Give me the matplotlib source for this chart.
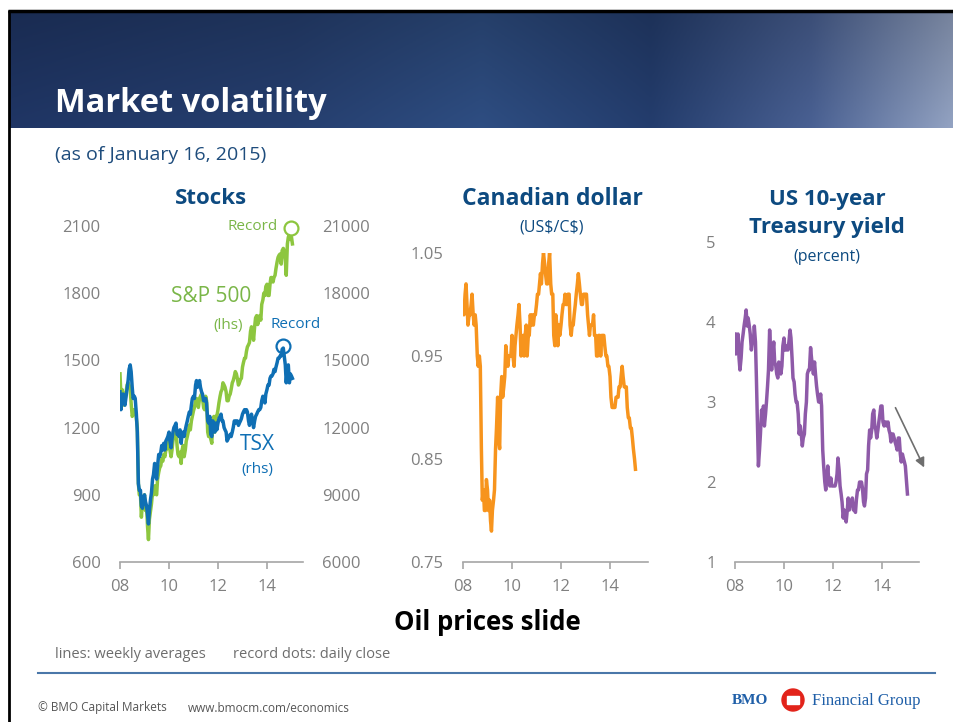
import matplotlib
matplotlib.use("Agg")
import matplotlib.pyplot as plt
import numpy as np
import pandas as pd
from matplotlib.patches import Circle, Rectangle

# ---------------------------------------------------------------------------
# data (semi-monthly readings, Jan 2008 - mid Jan 2015)
dates = pd.date_range("2008-01-01", "2015-01-15", freq="SMS")
years = dates.year + (dates.dayofyear - 1) / 365.25

spx = [1440, 1340, 1370, 1350, 1300, 1320, 1360, 1390, 1400, 1390, 1370, 1310, 1250, 1260, 1280, 1280, 1240, 1200, 950, 900, 900, 800, 870, 880,
       900, 830, 850, 760, 700, 790, 830, 860, 910, 900, 940, 910, 900, 970, 1000, 1020, 1030, 1060, 1050, 1080, 1070, 1100, 1105, 1120,
       1140, 1100, 1070, 1100, 1140, 1165, 1190, 1200, 1120, 1080, 1070, 1090, 1040, 1100, 1120, 1070, 1100, 1140, 1160, 1180, 1210, 1190, 1230, 1250,
       1275, 1290, 1320, 1330, 1310, 1290, 1330, 1340, 1350, 1330, 1290, 1280, 1340, 1320, 1180, 1160, 1180, 1150, 1130, 1230, 1250, 1180, 1250, 1250,
       1280, 1310, 1340, 1360, 1370, 1400, 1390, 1380, 1360, 1320, 1320, 1340, 1350, 1370, 1400, 1410, 1430, 1450, 1440, 1420, 1390, 1400, 1415, 1420,
       1470, 1490, 1510, 1510, 1540, 1560, 1570, 1580, 1630, 1650, 1630, 1590, 1650, 1690, 1700, 1660, 1680, 1700, 1680, 1750, 1770, 1800, 1790, 1830,
       1840, 1790, 1790, 1840, 1870, 1870, 1850, 1870, 1880, 1910, 1940, 1960, 1970, 1975, 1930, 1990, 2000, 1990, 1950, 1880, 2020, 2050, 2060, 2040,
       2050, 2020]

tsx = [13600, 12800, 13300, 13500, 13400, 13000, 13400, 13700, 14100, 14600, 14800, 14500, 13800, 13300, 13400, 13300, 12600, 11800, 9500, 9200, 9200, 8500, 8400, 8700,
       9000, 8700, 8500, 8100, 7700, 8300, 8800, 9100, 9700, 9900, 10400, 10000, 9700, 10300, 10800, 10700, 10900, 11200, 11000, 11300, 11000, 11400, 11500, 11600,
       11800, 11400, 11100, 11500, 11800, 12000, 12100, 12200, 11700, 11700, 11600, 11900, 11300, 11700, 11800, 11600, 11900, 12100, 12300, 12500, 12700, 12600, 13000, 13300,
       13400, 13300, 13900, 14100, 13800, 13900, 14100, 13800, 13600, 13500, 13200, 13200, 13300, 13100, 12300, 12200, 12500, 11700, 11600, 12300, 12200, 11800, 12200, 11900,
       12200, 12400, 12500, 12600, 12300, 12300, 12000, 11900, 11800, 11400, 11500, 11600, 11700, 11600, 11800, 12000, 12300, 12200, 12300, 12300, 12100, 12200, 12300, 12400,
       12600, 12700, 12800, 12700, 12800, 12700, 12300, 12100, 12400, 12600, 12300, 12000, 12300, 12500, 12600, 12700, 12800, 12800, 12900, 13200, 13400, 13300, 13100, 13500,
       13700, 13900, 13900, 14200, 14300, 14300, 14400, 14600, 14500, 14700, 14900, 15100, 15100, 15200, 15200, 15500, 15550, 15200, 14800, 14000, 14600, 14800, 14000, 14400,
       14300, 14200]

cad = [1.00, 0.99, 1.01, 1.02, 1.00, 0.98, 0.99, 0.99, 1.00, 1.01, 0.99, 0.98, 0.99, 0.98, 0.95, 0.94, 0.95, 0.94, 0.86, 0.81, 0.82, 0.80, 0.80, 0.83,
       0.82, 0.80, 0.81, 0.79, 0.78, 0.80, 0.81, 0.82, 0.86, 0.88, 0.91, 0.87, 0.86, 0.91, 0.93, 0.91, 0.92, 0.93, 0.96, 0.95, 0.94, 0.95, 0.95, 0.95,
       0.97, 0.95, 0.94, 0.96, 0.97, 0.98, 0.99, 1.00, 0.98, 0.95, 0.96, 0.97, 0.95, 0.97, 0.98, 0.95, 0.97, 0.97, 0.99, 0.98, 0.99, 0.98, 0.99, 0.99,
       1.00, 1.01, 1.01, 1.02, 1.03, 1.02, 1.04, 1.05, 1.04, 1.03, 1.02, 1.02, 1.04, 1.05, 1.02, 1.01, 1.01, 0.97, 0.96, 0.99, 0.98, 0.96, 0.98, 0.97,
       0.98, 0.99, 1.00, 1.00, 1.01, 1.00, 1.00, 1.01, 1.01, 0.98, 0.97, 0.98, 0.98, 0.99, 1.00, 1.01, 1.02, 1.03, 1.02, 1.01, 1.00, 1.00, 1.01, 1.01,
       1.01, 1.01, 0.99, 0.98, 0.97, 0.98, 0.98, 0.98, 0.99, 0.97, 0.97, 0.95, 0.95, 0.97, 0.97, 0.95, 0.97, 0.97, 0.97, 0.96, 0.95, 0.95, 0.94, 0.94,
       0.93, 0.91, 0.90, 0.90, 0.90, 0.90, 0.91, 0.91, 0.91, 0.92, 0.92, 0.93, 0.94, 0.93, 0.92, 0.92, 0.92, 0.90, 0.89, 0.89, 0.88, 0.88, 0.87, 0.86,
       0.85, 0.84]

ust = [3.85, 3.60, 3.65, 3.85, 3.55, 3.40, 3.55, 3.75, 3.85, 3.95, 4.05, 4.15, 3.95, 4.05, 3.95, 3.85, 3.65, 3.75, 3.75, 3.95, 3.75, 3.30, 2.70, 2.20,
       2.40, 2.60, 2.90, 2.80, 2.95, 2.70, 2.85, 3.00, 3.20, 3.40, 3.90, 3.65, 3.40, 3.60, 3.75, 3.50, 3.45, 3.35, 3.30, 3.50, 3.45, 3.35, 3.45, 3.70,
       3.80, 3.65, 3.65, 3.70, 3.65, 3.75, 3.90, 3.80, 3.55, 3.30, 3.25, 3.10, 3.00, 3.00, 2.85, 2.60, 2.70, 2.60, 2.45, 2.55, 2.60, 2.85, 3.00, 3.35,
       3.40, 3.40, 3.68, 3.55, 3.45, 3.35, 3.50, 3.35, 3.20, 3.10, 3.00, 3.00, 3.10, 2.95, 2.40, 2.20, 2.00, 1.90, 2.05, 2.20, 2.00, 1.95, 2.05, 1.95,
       1.95, 1.95, 1.95, 2.00, 2.10, 2.30, 2.15, 1.95, 1.85, 1.75, 1.55, 1.65, 1.55, 1.50, 1.65, 1.80, 1.65, 1.75, 1.72, 1.80, 1.65, 1.65, 1.62, 1.78,
       1.90, 1.90, 2.00, 1.95, 2.00, 1.93, 1.75, 1.70, 1.80, 2.10, 2.15, 2.45, 2.65, 2.55, 2.65, 2.85, 2.90, 2.70, 2.65, 2.55, 2.65, 2.75, 2.85, 2.95,
       2.95, 2.75, 2.70, 2.75, 2.75, 2.70, 2.75, 2.65, 2.60, 2.50, 2.60, 2.60, 2.55, 2.50, 2.45, 2.40, 2.55, 2.55, 2.35, 2.25, 2.35, 2.30, 2.25, 2.20,
       2.00, 1.85]

# record daily closes
spx_record = (2014.99, 2090.57)
tsx_record = (2014.67, 15657)

# trend arrow on the yield panel
arrow_start = (2014.5, 2.96)
arrow_end = (2015.77, 2.15)

year_ticks = [2008, 2010, 2012, 2014]
year_labels = ["08", "10", "12", "14"]

# ---------------------------------------------------------------------------
plt.rcParams["font.family"] = ["Open Sans", "DejaVu Sans"]

NAVY = "#0d4a80"
GREY = "#808080"
GREEN = "#8dc63f"
BLUE = "#0f6fb4"
ORANGE = "#f7941d"
PURPLE = "#8e5aa8"
LW = 2.5

W, H = 954, 722
fig = plt.figure(figsize=(W / 100, H / 100), dpi=100)

# background layer in pixel coords
bg = fig.add_axes([0, 0, 1, 1])
bg.set_xlim(0, W)
bg.set_ylim(H, 0)
bg.axis("off")

# banner gradient
gx = np.linspace(0, 1, 300)
stops = [0.0, 0.3, 0.5, 0.68, 0.85, 1.0]
cols = np.array([[30, 51, 96], [36, 60, 106], [44, 74, 124], [34, 58, 104], [70, 92, 140], [140, 155, 185]]) / 255
row = np.stack([np.interp(gx, stops, cols[:, k]) for k in range(3)], axis=-1)
gy = np.linspace(0.85, 1.05, 60)[:, None, None]
img = np.clip(row[None, :, :] * gy, 0, 1)
bg.imshow(img, extent=[10, W, 128, 12], aspect="auto", zorder=0)

# frame lines
bg.plot([8, W], [11, 11], color="black", lw=2.5, solid_capstyle="butt")
bg.plot([9, 9], [10, H], color="black", lw=2, solid_capstyle="butt")

bg.text(55, 103, "Market volatility", color="white", fontsize=23.5, fontweight="bold",
        va="center", ha="left")
bg.text(55, 155, "(as of January 16, 2015)", color="#1e4c7c", fontsize=14, va="center")

# panel headings
bg.text(211, 199, "Stocks", color=NAVY, fontsize=16, fontweight="bold", ha="center", va="center")
bg.text(552, 199, "Canadian dollar", color=NAVY, fontsize=16.5, fontweight="bold", ha="center", va="center")
bg.text(552, 228, r"(US\$/C\$)", color=NAVY, fontsize=11.5, ha="center", va="center")
bg.text(827, 199, "US 10-year", color=NAVY, fontsize=16, fontweight="bold", ha="center", va="center")
bg.text(827, 228, "Treasury yield", color=NAVY, fontsize=16, fontweight="bold", ha="center", va="center")
bg.text(827, 257, "(percent)", color=NAVY, fontsize=11.5, ha="center", va="center")

bg.text(487, 623, "Oil prices slide", color="black", fontsize=18.5, fontweight="bold",
        ha="center", va="center")
bg.text(55, 655, "lines: weekly averages", color="#6d6d6d", fontsize=10.5, va="center")
bg.text(233, 655, "record dots: daily close", color="#6d6d6d", fontsize=10.5, va="center")

bg.plot([38, 935], [673, 673], color="#4a77a9", lw=1.5)
bg.text(38, 708, "\u00a9 BMO Capital Markets", color="#555555", fontsize=8.5, va="center")
bg.text(188, 708, "www.bmocm.com/economics", color="#555555", fontsize=8.5, va="center")

# BMO logo
bg.text(768, 701, "BMO", color="#1f5fa8", fontsize=11, fontweight="bold", family="Liberation Serif",
        ha="right", va="center")
bg.add_patch(Circle((793, 700), 11, color="#e2231a", zorder=3))
bg.add_patch(Rectangle((787, 696), 12, 8, color="white", zorder=4))
bg.text(812, 701, "Financial Group", color="#1f5fa8", fontsize=12, family="Liberation Serif",
        ha="left", va="center")


def px_axes(x0, x1, y_top, y_bot):
    return fig.add_axes([x0 / W, 1 - y_bot / H, (x1 - x0) / W, (y_bot - y_top) / H])


def style(ax, xmax):
    ax.set_xlim(2008, xmax)
    ax.patch.set_visible(False)
    for s in ["top", "right", "left"]:
        ax.spines[s].set_visible(False)
    ax.spines["bottom"].set_color("#a6a6a6")
    ax.spines["bottom"].set_linewidth(1.2)
    ax.set_xticks(year_ticks)
    ax.set_xticklabels(year_labels)
    ax.tick_params(axis="x", direction="out", length=5, width=1.2, color="#a6a6a6",
                   labelcolor=GREY, labelsize=12, pad=7)
    ax.tick_params(axis="y", length=0, labelcolor=GREY, labelsize=12, pad=14)


# --- Stocks
ax1 = px_axes(120, 303, 226, 562)
style(ax1, 2015.47)
ax1.set_ylim(600, 2100)
ax1.set_yticks(np.arange(600, 2101, 300))
ax1.plot(years, spx, color=GREEN, lw=LW)
ax1.plot(*spx_record, marker="o", ms=10, mfc="white", mec=GREEN, mew=1.6, clip_on=False)

ax1b = ax1.twinx()
ax1b.set_ylim(6000, 21000)
ax1b.set_yticks(np.arange(6000, 21001, 3000))
for s in ["top", "right", "left", "bottom"]:
    ax1b.spines[s].set_visible(False)
ax1b.tick_params(axis="y", length=0, labelcolor=GREY, labelsize=12, pad=14)
ax1b.plot(years, tsx, color=BLUE, lw=LW)
ax1b.plot(*tsx_record, marker="o", ms=10, mfc="none", mec=BLUE, mew=1.6, clip_on=False)

bg.text(278, 227, "Record", color="#7ab648", fontsize=11, ha="right", va="center", zorder=10)
bg.text(211, 297, "S&P 500", color="#7ab648", fontsize=15, ha="center", va="center")
bg.text(228, 325, "(lhs)", color="#7ab648", fontsize=11, ha="center", va="center")
bg.text(296, 325, "Record", color=BLUE, fontsize=11, ha="center", va="center")
bg.text(257, 445, "TSX", color=BLUE, fontsize=15, ha="center", va="center")
bg.text(257, 470, "(rhs)", color=BLUE, fontsize=11, ha="center", va="center")

# --- Canadian dollar
ax2 = px_axes(463, 648, 253, 562)
style(ax2, 2015.55)
ax2.set_ylim(0.75, 1.05)
ax2.set_yticks([0.75, 0.85, 0.95, 1.05])
ax2.set_yticklabels(["0.75", "0.85", "0.95", "1.05"])
ax2.plot(years, cad, color=ORANGE, lw=LW)

# --- US 10-year
ax3 = px_axes(735, 919, 242, 562)
style(ax3, 2015.51)
ax3.set_ylim(1, 5)
ax3.set_yticks([1, 2, 3, 4, 5])
ax3.plot(years, ust, color=PURPLE, lw=LW)
ax3.annotate("", xy=arrow_end, xytext=arrow_start, annotation_clip=False,
             arrowprops=dict(arrowstyle="-|>", color="#6e6e6e", lw=1.2, mutation_scale=14))

fig.savefig("out.png", dpi=100)
